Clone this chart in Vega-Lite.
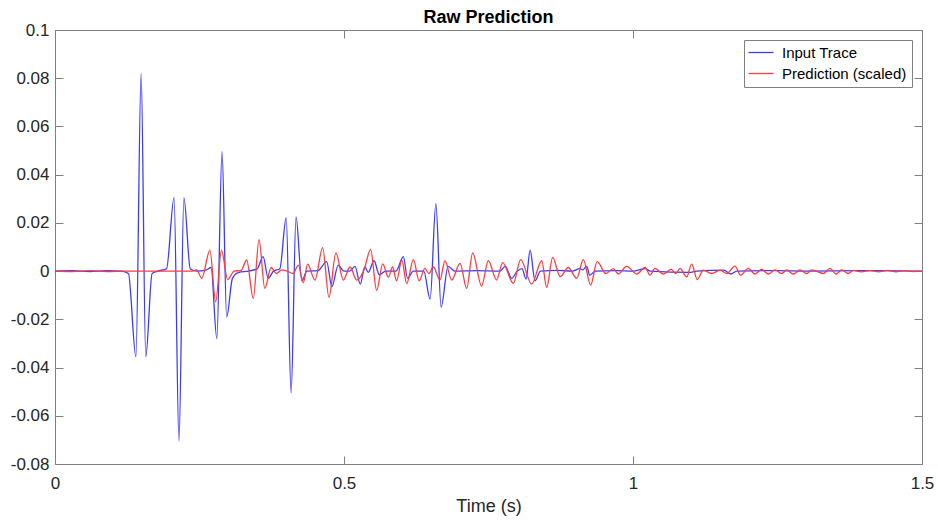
{
  "$schema": "https://vega.github.io/schema/vega-lite/v6.json",
  "autosize": {"type": "none"},
  "padding": {"left": 55, "top": 30, "right": 16, "bottom": 58},
  "width": 867,
  "height": 434,
  "background": "white",
  "title": {"text": "Raw Prediction", "font": "Liberation Sans", "fontSize": 18, "fontWeight": "bold", "color": "#000000", "anchor": "middle", "offset": -6},
  "config": {
    "view": {"stroke": "#808080", "strokeWidth": 1},
    "axis": {"grid": false, "labelFont": "Liberation Sans", "labelColor": "#262626", "titleFont": "Liberation Sans", "titleColor": "#262626", "titleFontWeight": "normal", "tickColor": "#808080", "domainColor": "#808080", "labelFlush": false, "labelOverlap": false},
    "legend": {"labelFont": "Liberation Sans"}
  },
  "datasets": {
    "trace": [
      {"t": 0, "v": 0, "s": "Input Trace"},
      {"t": 0.03, "v": 0.0002, "s": "Input Trace"},
      {"t": 0.06, "v": -0.0002, "s": "Input Trace"},
      {"t": 0.09, "v": 0.0002, "s": "Input Trace"},
      {"t": 0.115, "v": 0, "s": "Input Trace"},
      {"t": 0.127, "v": -0.001, "s": "Input Trace"},
      {"t": 0.140, "v": -0.0355, "s": "Input Trace"},
      {"t": 0.149, "v": 0.082, "s": "Input Trace"},
      {"t": 0.157, "v": -0.0355, "s": "Input Trace"},
      {"t": 0.168, "v": -0.001, "s": "Input Trace"},
      {"t": 0.178, "v": 0, "s": "Input Trace"},
      {"t": 0.193, "v": 0.001, "s": "Input Trace"},
      {"t": 0.206, "v": 0.0305, "s": "Input Trace"},
      {"t": 0.2145, "v": -0.0705, "s": "Input Trace"},
      {"t": 0.223, "v": 0.0305, "s": "Input Trace"},
      {"t": 0.234, "v": 0.001, "s": "Input Trace"},
      {"t": 0.245, "v": 0, "s": "Input Trace"},
      {"t": 0.262, "v": 0.0005, "s": "Input Trace"},
      {"t": 0.270, "v": 0.0015, "s": "Input Trace"},
      {"t": 0.280, "v": -0.028, "s": "Input Trace"},
      {"t": 0.289, "v": 0.0495, "s": "Input Trace"},
      {"t": 0.297, "v": -0.019, "s": "Input Trace"},
      {"t": 0.307, "v": -0.003, "s": "Input Trace"},
      {"t": 0.318, "v": -0.0005, "s": "Input Trace"},
      {"t": 0.335, "v": 0, "s": "Input Trace"},
      {"t": 0.350, "v": 0.001, "s": "Input Trace"},
      {"t": 0.360, "v": 0.006, "s": "Input Trace"},
      {"t": 0.369, "v": -0.003, "s": "Input Trace"},
      {"t": 0.378, "v": 0, "s": "Input Trace"},
      {"t": 0.389, "v": 0.001, "s": "Input Trace"},
      {"t": 0.400, "v": 0.0222, "s": "Input Trace"},
      {"t": 0.4085, "v": -0.0505, "s": "Input Trace"},
      {"t": 0.417, "v": 0.0225, "s": "Input Trace"},
      {"t": 0.427, "v": -0.004, "s": "Input Trace"},
      {"t": 0.436, "v": 0, "s": "Input Trace"},
      {"t": 0.455, "v": 0.0002, "s": "Input Trace"},
      {"t": 0.470, "v": 0.0039, "s": "Input Trace"},
      {"t": 0.479, "v": -0.0065, "s": "Input Trace"},
      {"t": 0.490, "v": 0.0025, "s": "Input Trace"},
      {"t": 0.500, "v": 0, "s": "Input Trace"},
      {"t": 0.510, "v": 0, "s": "Input Trace"},
      {"t": 0.519, "v": 0.002, "s": "Input Trace"},
      {"t": 0.528, "v": -0.0054, "s": "Input Trace"},
      {"t": 0.536, "v": 0.0017, "s": "Input Trace"},
      {"t": 0.542, "v": -0.0005, "s": "Input Trace"},
      {"t": 0.552, "v": 0.0043, "s": "Input Trace"},
      {"t": 0.561, "v": -0.0015, "s": "Input Trace"},
      {"t": 0.572, "v": 0, "s": "Input Trace"},
      {"t": 0.590, "v": 0, "s": "Input Trace"},
      {"t": 0.6026, "v": 0.006, "s": "Input Trace"},
      {"t": 0.610, "v": -0.003, "s": "Input Trace"},
      {"t": 0.620, "v": 0, "s": "Input Trace"},
      {"t": 0.638, "v": 0, "s": "Input Trace"},
      {"t": 0.649, "v": -0.0116, "s": "Input Trace"},
      {"t": 0.659, "v": 0.028, "s": "Input Trace"},
      {"t": 0.668, "v": -0.015, "s": "Input Trace"},
      {"t": 0.680, "v": 0.002, "s": "Input Trace"},
      {"t": 0.692, "v": 0, "s": "Input Trace"},
      {"t": 0.730, "v": 0.0002, "s": "Input Trace"},
      {"t": 0.770, "v": 0, "s": "Input Trace"},
      {"t": 0.779, "v": 0.002, "s": "Input Trace"},
      {"t": 0.790, "v": -0.003, "s": "Input Trace"},
      {"t": 0.800, "v": 0, "s": "Input Trace"},
      {"t": 0.808, "v": 0.001, "s": "Input Trace"},
      {"t": 0.815, "v": -0.0033, "s": "Input Trace"},
      {"t": 0.822, "v": 0.0087, "s": "Input Trace"},
      {"t": 0.8304, "v": -0.004, "s": "Input Trace"},
      {"t": 0.840, "v": 0, "s": "Input Trace"},
      {"t": 0.870, "v": 0.0003, "s": "Input Trace"},
      {"t": 0.895, "v": 0, "s": "Input Trace"},
      {"t": 0.908, "v": 0.001, "s": "Input Trace"},
      {"t": 0.913, "v": 0.0005, "s": "Input Trace"},
      {"t": 0.920, "v": 0.002, "s": "Input Trace"},
      {"t": 0.925, "v": -0.0017, "s": "Input Trace"},
      {"t": 0.935, "v": 0, "s": "Input Trace"},
      {"t": 0.970, "v": 0.0002, "s": "Input Trace"},
      {"t": 1.000, "v": 0, "s": "Input Trace"},
      {"t": 1.021, "v": 0.001, "s": "Input Trace"},
      {"t": 1.030, "v": 0, "s": "Input Trace"},
      {"t": 1.100, "v": -0.0005, "s": "Input Trace"},
      {"t": 1.110, "v": 0, "s": "Input Trace"},
      {"t": 1.157, "v": 0.0004, "s": "Input Trace"},
      {"t": 1.169, "v": -0.0012, "s": "Input Trace"},
      {"t": 1.180, "v": 0, "s": "Input Trace"},
      {"t": 1.250, "v": 0.0002, "s": "Input Trace"},
      {"t": 1.300, "v": 0, "s": "Input Trace"},
      {"t": 1.400, "v": 0.0002, "s": "Input Trace"},
      {"t": 1.500, "v": 0, "s": "Input Trace"},
      {"t": 0, "v": 0, "s": "Prediction (scaled)"},
      {"t": 0.03, "v": -0.0002, "s": "Prediction (scaled)"},
      {"t": 0.06, "v": 0.0002, "s": "Prediction (scaled)"},
      {"t": 0.09, "v": -0.0002, "s": "Prediction (scaled)"},
      {"t": 0.12, "v": 0, "s": "Prediction (scaled)"},
      {"t": 0.235, "v": 0, "s": "Prediction (scaled)"},
      {"t": 0.245, "v": 0.0005, "s": "Prediction (scaled)"},
      {"t": 0.254, "v": -0.003, "s": "Prediction (scaled)"},
      {"t": 0.268, "v": 0.0087, "s": "Prediction (scaled)"},
      {"t": 0.278, "v": -0.0127, "s": "Prediction (scaled)"},
      {"t": 0.288, "v": 0.0087, "s": "Prediction (scaled)"},
      {"t": 0.2987, "v": -0.0035, "s": "Prediction (scaled)"},
      {"t": 0.310, "v": 0, "s": "Prediction (scaled)"},
      {"t": 0.322, "v": 0.0003, "s": "Prediction (scaled)"},
      {"t": 0.3316, "v": 0.0046, "s": "Prediction (scaled)"},
      {"t": 0.343, "v": -0.0113, "s": "Prediction (scaled)"},
      {"t": 0.353, "v": 0.0131, "s": "Prediction (scaled)"},
      {"t": 0.363, "v": -0.0072, "s": "Prediction (scaled)"},
      {"t": 0.374, "v": 0.0015, "s": "Prediction (scaled)"},
      {"t": 0.383, "v": -0.001, "s": "Prediction (scaled)"},
      {"t": 0.392, "v": 0.0005, "s": "Prediction (scaled)"},
      {"t": 0.402, "v": 0, "s": "Prediction (scaled)"},
      {"t": 0.412, "v": -0.001, "s": "Prediction (scaled)"},
      {"t": 0.421, "v": 0.0025, "s": "Prediction (scaled)"},
      {"t": 0.4296, "v": -0.0048, "s": "Prediction (scaled)"},
      {"t": 0.437, "v": 0.0029, "s": "Prediction (scaled)"},
      {"t": 0.4498, "v": -0.0037, "s": "Prediction (scaled)"},
      {"t": 0.463, "v": 0.0097, "s": "Prediction (scaled)"},
      {"t": 0.474, "v": -0.0109, "s": "Prediction (scaled)"},
      {"t": 0.486, "v": 0.0076, "s": "Prediction (scaled)"},
      {"t": 0.4988, "v": -0.0037, "s": "Prediction (scaled)"},
      {"t": 0.5104, "v": 0.0017, "s": "Prediction (scaled)"},
      {"t": 0.522, "v": -0.0037, "s": "Prediction (scaled)"},
      {"t": 0.535, "v": 0.0007, "s": "Prediction (scaled)"},
      {"t": 0.546, "v": 0.009, "s": "Prediction (scaled)"},
      {"t": 0.5565, "v": -0.008, "s": "Prediction (scaled)"},
      {"t": 0.567, "v": 0.003, "s": "Prediction (scaled)"},
      {"t": 0.5767, "v": -0.0025, "s": "Prediction (scaled)"},
      {"t": 0.584, "v": 0.0017, "s": "Prediction (scaled)"},
      {"t": 0.591, "v": -0.004, "s": "Prediction (scaled)"},
      {"t": 0.600, "v": 0.0045, "s": "Prediction (scaled)"},
      {"t": 0.6085, "v": -0.0052, "s": "Prediction (scaled)"},
      {"t": 0.620, "v": 0.0048, "s": "Prediction (scaled)"},
      {"t": 0.630, "v": -0.004, "s": "Prediction (scaled)"},
      {"t": 0.640, "v": 0.0011, "s": "Prediction (scaled)"},
      {"t": 0.647, "v": -0.001, "s": "Prediction (scaled)"},
      {"t": 0.6546, "v": 0.0018, "s": "Prediction (scaled)"},
      {"t": 0.666, "v": -0.0037, "s": "Prediction (scaled)"},
      {"t": 0.6747, "v": 0.0043, "s": "Prediction (scaled)"},
      {"t": 0.6863, "v": -0.0037, "s": "Prediction (scaled)"},
      {"t": 0.7007, "v": 0.0032, "s": "Prediction (scaled)"},
      {"t": 0.7122, "v": -0.0072, "s": "Prediction (scaled)"},
      {"t": 0.7226, "v": 0.0076, "s": "Prediction (scaled)"},
      {"t": 0.738, "v": -0.0062, "s": "Prediction (scaled)"},
      {"t": 0.7497, "v": 0.0043, "s": "Prediction (scaled)"},
      {"t": 0.764, "v": -0.0037, "s": "Prediction (scaled)"},
      {"t": 0.7745, "v": 0.0035, "s": "Prediction (scaled)"},
      {"t": 0.793, "v": -0.0051, "s": "Prediction (scaled)"},
      {"t": 0.8056, "v": 0.0048, "s": "Prediction (scaled)"},
      {"t": 0.8247, "v": -0.0054, "s": "Prediction (scaled)"},
      {"t": 0.842, "v": 0.0043, "s": "Prediction (scaled)"},
      {"t": 0.8507, "v": -0.0068, "s": "Prediction (scaled)"},
      {"t": 0.861, "v": 0.0057, "s": "Prediction (scaled)"},
      {"t": 0.874, "v": -0.0023, "s": "Prediction (scaled)"},
      {"t": 0.888, "v": 0.0015, "s": "Prediction (scaled)"},
      {"t": 0.9026, "v": -0.003, "s": "Prediction (scaled)"},
      {"t": 0.914, "v": 0.0048, "s": "Prediction (scaled)"},
      {"t": 0.9267, "v": -0.0058, "s": "Prediction (scaled)"},
      {"t": 0.938, "v": 0.0039, "s": "Prediction (scaled)"},
      {"t": 0.953, "v": -0.001, "s": "Prediction (scaled)"},
      {"t": 0.966, "v": 0.001, "s": "Prediction (scaled)"},
      {"t": 0.9746, "v": -0.0012, "s": "Prediction (scaled)"},
      {"t": 0.989, "v": 0.002, "s": "Prediction (scaled)"},
      {"t": 1.0064, "v": -0.0012, "s": "Prediction (scaled)"},
      {"t": 1.0208, "v": 0.0015, "s": "Prediction (scaled)"},
      {"t": 1.0294, "v": -0.0017, "s": "Prediction (scaled)"},
      {"t": 1.038, "v": 0.0011, "s": "Prediction (scaled)"},
      {"t": 1.0525, "v": -0.0012, "s": "Prediction (scaled)"},
      {"t": 1.066, "v": 0.0007, "s": "Prediction (scaled)"},
      {"t": 1.074, "v": -0.001, "s": "Prediction (scaled)"},
      {"t": 1.0813, "v": 0.0011, "s": "Prediction (scaled)"},
      {"t": 1.0929, "v": -0.0024, "s": "Prediction (scaled)"},
      {"t": 1.1015, "v": 0.0029, "s": "Prediction (scaled)"},
      {"t": 1.1113, "v": -0.0035, "s": "Prediction (scaled)"},
      {"t": 1.1217, "v": 0.0004, "s": "Prediction (scaled)"},
      {"t": 1.136, "v": -0.001, "s": "Prediction (scaled)"},
      {"t": 1.1505, "v": 0.0004, "s": "Prediction (scaled)"},
      {"t": 1.162, "v": -0.001, "s": "Prediction (scaled)"},
      {"t": 1.1765, "v": 0.0021, "s": "Prediction (scaled)"},
      {"t": 1.1863, "v": -0.0017, "s": "Prediction (scaled)"},
      {"t": 1.1995, "v": 0.0011, "s": "Prediction (scaled)"},
      {"t": 1.211, "v": -0.0012, "s": "Prediction (scaled)"},
      {"t": 1.2226, "v": 0.0007, "s": "Prediction (scaled)"},
      {"t": 1.234, "v": -0.0012, "s": "Prediction (scaled)"},
      {"t": 1.2457, "v": 0.0005, "s": "Prediction (scaled)"},
      {"t": 1.2572, "v": -0.001, "s": "Prediction (scaled)"},
      {"t": 1.2659, "v": 0.0005, "s": "Prediction (scaled)"},
      {"t": 1.2774, "v": -0.0012, "s": "Prediction (scaled)"},
      {"t": 1.289, "v": 0.0005, "s": "Prediction (scaled)"},
      {"t": 1.3005, "v": -0.001, "s": "Prediction (scaled)"},
      {"t": 1.3091, "v": 0.0005, "s": "Prediction (scaled)"},
      {"t": 1.3293, "v": -0.001, "s": "Prediction (scaled)"},
      {"t": 1.3408, "v": 0.0011, "s": "Prediction (scaled)"},
      {"t": 1.3512, "v": -0.0012, "s": "Prediction (scaled)"},
      {"t": 1.361, "v": 0.0005, "s": "Prediction (scaled)"},
      {"t": 1.3725, "v": -0.001, "s": "Prediction (scaled)"},
      {"t": 1.381, "v": 0.0003, "s": "Prediction (scaled)"},
      {"t": 1.395, "v": -0.0003, "s": "Prediction (scaled)"},
      {"t": 1.41, "v": 0.0002, "s": "Prediction (scaled)"},
      {"t": 1.425, "v": -0.0003, "s": "Prediction (scaled)"},
      {"t": 1.44, "v": 0.0003, "s": "Prediction (scaled)"},
      {"t": 1.455, "v": -0.0003, "s": "Prediction (scaled)"},
      {"t": 1.47, "v": 0.0002, "s": "Prediction (scaled)"},
      {"t": 1.485, "v": -0.0002, "s": "Prediction (scaled)"},
      {"t": 1.5, "v": 0, "s": "Prediction (scaled)"}
    ],
    "frame": [{"t": 0, "v": 0}]
  },
  "layer": [
    {
      "data": {"name": "trace"},
      "mark": {"type": "line", "interpolate": "monotone", "strokeWidth": 1.3, "clip": true},
      "encoding": {
        "x": {"field": "t", "type": "quantitative", "scale": {"domain": [0, 1.5], "nice": false, "zero": false},
          "axis": {"orient": "bottom", "values": [0, 0.5, 1, 1.5], "format": "~g", "tickSize": -8, "labelPadding": 19, "labelFontSize": 17, "title": "Time (s)", "titleFontSize": 18, "titlePadding": 6}},
        "y": {"field": "v", "type": "quantitative", "scale": {"domain": [-0.08, 0.1], "nice": false, "zero": false},
          "axis": {"orient": "left", "values": [-0.08, -0.06, -0.04, -0.02, 0, 0.02, 0.04, 0.06, 0.08, 0.1], "format": "~g", "labelExpr": "replace(datum.label, '\u2212', '-')", "tickSize": -8, "labelPadding": 14, "labelFontSize": 17, "title": null}},
        "color": {"field": "s", "type": "nominal",
          "scale": {"domain": ["Input Trace", "Prediction (scaled)"], "range": ["#3b3bff", "#ff3b3b"]},
          "legend": {"title": null, "orient": "top-right", "offset": 10, "strokeColor": "#808080", "fillColor": "white", "padding": 5, "symbolType": "M-2,0H2", "symbolSize": 156, "symbolStrokeWidth": 1.3, "symbolFillColor": "transparent", "symbolOffset": 4.5, "labelFontSize": 15, "labelColor": "#000000", "labelOffset": 13.5, "rowPadding": 5}}
      }
    },
    {
      "data": {"name": "frame"},
      "mark": {"type": "point", "opacity": 0},
      "encoding": {
        "x": {"field": "t", "type": "quantitative", "axis": {"orient": "top", "values": [0, 0.5, 1, 1.5], "tickSize": -8, "labels": false, "title": null}},
        "y": {"field": "v", "type": "quantitative", "axis": {"orient": "right", "values": [-0.08, -0.06, -0.04, -0.02, 0, 0.02, 0.04, 0.06, 0.08, 0.1], "tickSize": -8, "labels": false, "title": null}}
      }
    }
  ],
  "resolve": {"axis": {"x": "independent", "y": "independent"}}
}
